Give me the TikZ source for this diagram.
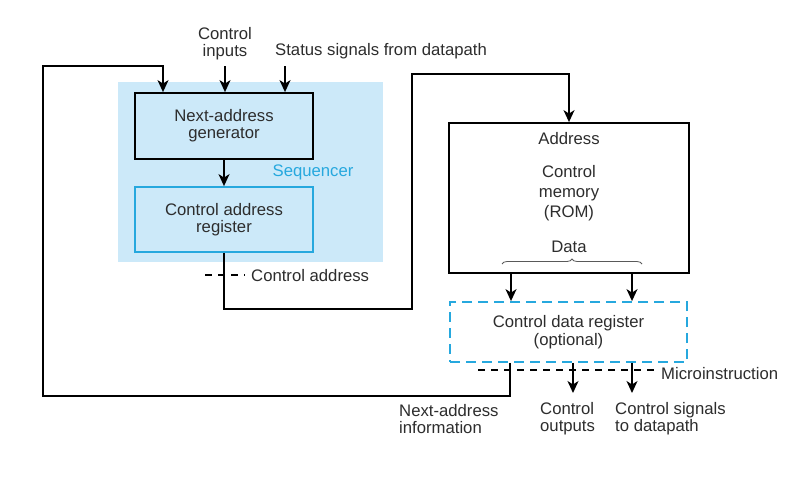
\documentclass[tikz,border=0pt]{standalone}
\usepackage{fontspec}
\setmainfont{Liberation Sans}
\usetikzlibrary{arrows.meta,decorations.pathreplacing}
\definecolor{seqbg}{RGB}{204,233,249}
\definecolor{cyanline}{RGB}{38,168,222}
\definecolor{txt}{RGB}{45,45,45}
\begin{document}
\begin{tikzpicture}[x=1pt,y=-1pt,
  font=\fontsize{16.7}{17}\selectfont, text=txt,
  box/.style={draw=black, line width=1.8pt, inner sep=0pt, align=center},
  lbl/.style={inner sep=0pt, align=center},
  wire/.style={line width=1.6pt},
  arr/.style={line width=1.6pt, -{Stealth[length=12pt,width=11pt,inset=3.5pt]}},
  dline/.style={line width=1.5pt, dash pattern=on 7pt off 6pt}]
\useasboundingbox[fill=white] (0,0) rectangle (811,490);
% sequencer background
\node[fill=seqbg, minimum width=265, minimum height=180, inner sep=0pt] (seq) at (250.5,172) {};
\node[lbl, text=cyanline] (seqt) at (313,172) {Sequencer};
% boxes
\node[box, fill=seqbg, minimum width=178, minimum height=66] (gen) at (224,126) {Next-address\\generator};
\node[box, draw=cyanline, fill=seqbg, minimum width=178, minimum height=65] (reg) at (224,219.5) {Control address\\register};
\node[box, minimum width=240, minimum height=150] (rom) at (569,198) {};
\node[lbl] (addr) at (569,139) {Address};
\node[lbl, font=\fontsize{16.7}{20}\selectfont] (mem) at (569,193) {Control\\memory\\(ROM)};
\node[lbl] (data) at (569,247) {Data};
\node[box, draw=cyanline, dash pattern=on 10pt off 6pt, minimum width=237, minimum height=60, font=\fontsize{16.7}{18}\selectfont] (cdr) at (568.5,332) {Control data register\\(optional)};
% labels
\node[lbl] (cit) at (225,44) {Control\\inputs};
\node[lbl, anchor=west] (sst) at (275,51) {Status signals from datapath};
\node[lbl, anchor=west] (cat) at (251,276) {Control address};
\node[lbl, anchor=west] (mit) at (661,374) {Microinstruction};
\node[lbl, anchor=west, align=left] (nat) at (399,419) {Next-address\\information};
\node[lbl, anchor=west, align=left] (cot) at (540,419) {Control\\outputs};
\node[lbl, anchor=west, align=left] (cst) at (615,419) {Control signals\\to datapath};
% coordinates
\coordinate (ci) at (225,66);
\coordinate (si) at (285,66);
\coordinate (gi) at (163,66);
\coordinate (lt) at (43,66);
\coordinate (lb) at (43,396);
\coordinate (na) at (510,396);
\coordinate (ca1) at (412,309);
\coordinate (ca2) at (412,74);
\coordinate (d1) at (511,0);
\coordinate (d2) at (632,0);
\coordinate (o1) at (573,393);
\coordinate (o2) at (632,393);
\coordinate (mi1) at (478,370);
\coordinate (mi2) at (658,370);
\coordinate (cd1) at (205,275);
\coordinate (cd2) at (245,275);
\coordinate (br1) at (502,264);
\coordinate (br2) at (642,264);
% connectors
\draw[arr] (ci) -- (ci |- gen.north);
\draw[arr] (si) -- (si |- gen.north);
\draw[arr] (gen.south) -- (reg.north);
\draw[arr] (reg.south) |- (ca1) -- (ca2) -| (rom.north);
\draw[arr] (rom.south -| d1) -- (cdr.north -| d1);
\draw[arr] (rom.south -| d2) -- (cdr.north -| d2);
\draw[arr] (cdr.south -| na) |- (lb) -- (lt) -- (gi) -- (gi |- gen.north);
\draw[arr] (cdr.south -| o1) -- (o1);
\draw[arr] (cdr.south -| o2) -- (o2);
\draw[dline] (mi1) -- (mi2);
\draw[dline] (cd1) -- (cd2);
\draw[decorate, decoration={brace, amplitude=5pt}, line width=0.8pt, draw=black!65] (br1) -- (br2);
\end{tikzpicture}
\end{document}
